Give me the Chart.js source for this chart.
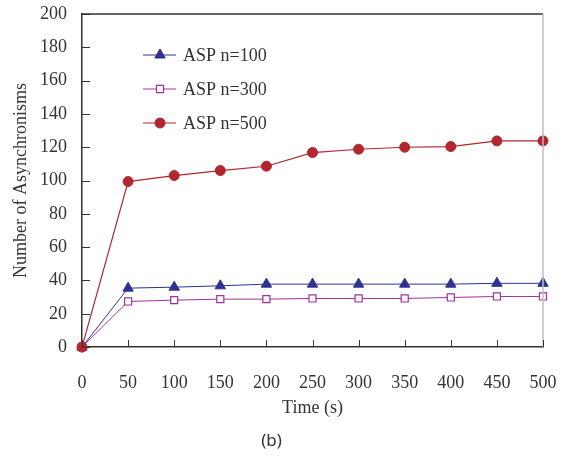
<!DOCTYPE html>
<html>
<head>
<meta charset="utf-8">
<script src="https://cdn.jsdelivr.net/npm/chart.js@4/dist/chart.umd.min.js"></script>
<style>
	html, body { margin: 0; padding: 0; background: #fff; }
	#wrap { width: 562px; height: 461px; }
</style>
</head>
<body>
<div id="wrap"><canvas id="chartAsp"></canvas></div>
<script>
'use strict'

const timeLabels = [0, 50, 100, 150, 200, 250, 300, 350, 400, 450, 500];
const asp100 = [0, 35.4, 36.0, 36.8, 37.8, 37.8, 37.8, 37.8, 37.8, 38.3, 38.3];
const asp300 = [0, 27.4, 28.2, 28.8, 28.8, 29.2, 29.2, 29.2, 29.8, 30.4, 30.4];
const asp500 = [0, 99.4, 103.0, 106.0, 108.6, 116.8, 118.8, 120.0, 120.4, 123.8, 123.8];
const seriesNames = ['ASP n=100', 'ASP n=300', 'ASP n=500'];

const colors = {
	blue: '#2E3192',
	magenta: '#A0309A',
	red: '#B3252F',
	axis: '#333333',
	frameRight: '#BFBFBF',
	text: '#333333',
};

const serif = "'Liberation Serif', 'DejaVu Serif', serif";

function toPoints(values) {
	return values.map(function (v, i) { return { x: timeLabels[i], y: v }; });
}

// frame, inward ticks and the legend inside the plot
const framePlugin = {
	id: 'frame',
	afterDraw: function (chart) {
		const ctx = chart.ctx;
		const area = chart.chartArea;
		const xs = chart.scales.x;
		const ys = chart.scales.y;
		ctx.save();
		ctx.lineWidth = 1.5;
		ctx.strokeStyle = colors.axis;
		ctx.beginPath();
		ctx.moveTo(area.left, area.top);
		ctx.lineTo(area.right, area.top);
		ctx.stroke();
		ctx.strokeStyle = colors.frameRight;
		ctx.beginPath();
		ctx.moveTo(area.right, area.top);
		ctx.lineTo(area.right, area.bottom);
		ctx.stroke();

		ctx.lineWidth = 1;
		ctx.strokeStyle = colors.axis;
		ctx.beginPath();
		xs.ticks.forEach(function (t) {
			const px = Math.round(xs.getPixelForValue(t.value)) + 0.5;
			ctx.moveTo(px, area.bottom);
			ctx.lineTo(px, area.bottom - 7);
		});
		ys.ticks.forEach(function (t) {
			const py = Math.round(ys.getPixelForValue(t.value)) + 0.5;
			ctx.moveTo(area.left, py);
			ctx.lineTo(area.left + 8, py);
		});
		ctx.stroke();

		// legend
		const lx = area.left + 61;
		let ly = area.top + 41;
		chart.data.datasets.forEach(function (ds) {
			ctx.lineWidth = 1;
			ctx.strokeStyle = ds.borderColor;
			ctx.beginPath();
			ctx.moveTo(lx, ly);
			ctx.lineTo(lx + 33, ly);
			ctx.stroke();
			ctx.fillStyle = ds.pointBackgroundColor;
			ctx.strokeStyle = ds.pointBorderColor;
			ctx.lineWidth = ds.pointBorderWidth;
			Chart.helpers.drawPoint(ctx, {
				pointStyle: ds.pointStyle,
				radius: ds.pointRadius,
				borderWidth: ds.pointBorderWidth,
				rotation: 0,
			}, lx + 17, ly);
			ctx.fillStyle = colors.text;
			ctx.font = '18px ' + serif;
			ctx.textBaseline = 'middle';
			ctx.fillText(ds.label, lx + 40, ly + 1);
			ly += 34;
		});
		ctx.restore();
	},
};

let chartAsp = new Chart(document.getElementById('chartAsp'), {
	type: 'line',
	data: {
		datasets: [
			{
				label: seriesNames[0],
				data: toPoints(asp100),
				borderColor: colors.blue,
				borderWidth: 1,
				pointStyle: 'triangle',
				pointRadius: 6,
				pointBackgroundColor: colors.blue,
				pointBorderColor: colors.blue,
				pointBorderWidth: 1,
				order: 2,
			},
			{
				label: seriesNames[1],
				data: toPoints(asp300),
				borderColor: colors.magenta,
				borderWidth: 1,
				pointStyle: 'rect',
				pointRadius: 5,
				pointBackgroundColor: '#FFFFFF',
				pointBorderColor: colors.magenta,
				pointBorderWidth: 1.2,
				order: 1,
			},
			{
				label: seriesNames[2],
				data: toPoints(asp500),
				borderColor: colors.red,
				borderWidth: 1.2,
				pointStyle: 'circle',
				pointRadius: 5,
				pointBackgroundColor: colors.red,
				pointBorderColor: colors.red,
				pointBorderWidth: 1,
				order: 0,
			},
		],
	},
	options: {
		responsive: true,
		maintainAspectRatio: false,
		animation: false,
		clip: false,
		layout: {
			padding: { left: 0, top: 14, right: 19, bottom: 0 },
		},
		plugins: {
			legend: { display: false },
			tooltip: { enabled: false },
			title: {
				display: true,
				position: 'bottom',
				text: '(b)',
				color: colors.text,
				font: { family: "'Noto Sans', 'DejaVu Sans', sans-serif", size: 17, weight: 'normal' },
				padding: { top: 0, bottom: 10 },
			},
		},
		scales: {
			x: {
				type: 'linear',
				min: 0,
				max: 500,
				afterBuildTicks: function (scale) {
					scale.ticks = timeLabels.map(function (v) { return { value: v }; });
				},
				afterFit: function (scale) {
					scale.height = 83.5;
					scale.paddingLeft = 0;
					scale.paddingRight = 0;
				},
				grid: { display: false, drawTicks: false },
				border: { color: colors.axis, width: 1.5 },
				ticks: {
					color: colors.text,
					font: { family: serif, size: 18 },
					padding: 25,
					maxRotation: 0,
				},
				title: {
					display: true,
					text: 'Time (s)',
					color: colors.text,
					font: { family: serif, size: 18 },
					padding: { top: 0, bottom: 12 },
				},
			},
			y: {
				min: 0,
				max: 200,
				afterFit: function (scale) {
					scale.width = 82;
					scale.paddingTop = 0;
					scale.paddingBottom = 0;
				},
				grid: { display: false, drawTicks: false },
				border: { color: colors.axis, width: 1.5 },
				ticks: {
					stepSize: 20,
					color: colors.text,
					font: { family: serif, size: 18 },
					padding: 15,
				},
				title: {
					display: true,
					text: 'Number of Asynchronisms',
					color: colors.text,
					font: { family: serif, size: 18 },
					padding: { top: 10, bottom: 0 },
				},
			},
		},
	},
	plugins: [framePlugin],
});
</script>
</body>
</html>
